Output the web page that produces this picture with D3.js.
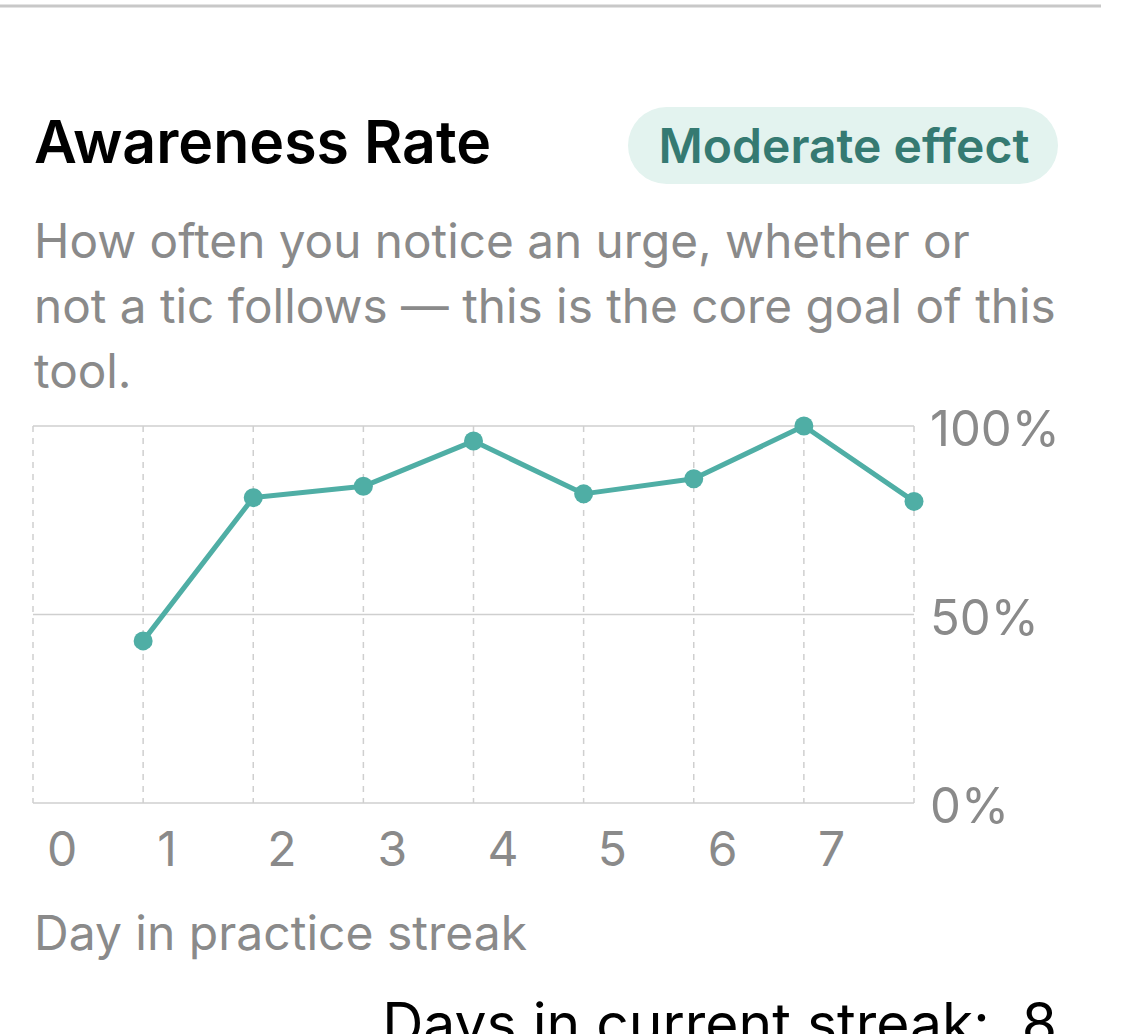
<!DOCTYPE html>
<html>
<head>
<meta charset="utf-8">
<script src="https://cdn.jsdelivr.net/npm/d3@7"></script>
<style>
  body { margin: 0; background: #fff; }
  svg { display: block; font-family: Inter, "Noto Sans", sans-serif; }
</style>
</head>
<body>
<svg id="chart" width="1128" height="1034"></svg>
<script>
// streak days and the awareness rate measured on each
var days = [1, 2, 3, 4, 5, 6, 7, 8];
var awareness = [0.43, 0.81, 0.84, 0.96, 0.82, 0.86, 1.0, 0.80];
var dayTicks = [0, 1, 2, 3, 4, 5, 6, 7, 8];
var dayLabels = ['0', '1', '2', '3', '4', '5', '6', '7'];
var rateTicks = [0, 0.5, 1];
var subtitleLines = [
  'How often you notice an urge, whether or',
  'not a tic follows \u2014 this is the core goal of this',
  'tool.'
];

var svg = d3.select('#chart');
var teal = '#4faea5';
var grey = '#8a8a8a';
var gridColor = '#cfcfcf';

// divider at the top of the card
svg.append('line')
  .attr('x1', 0).attr('x2', 1101)
  .attr('y1', 6).attr('y2', 6)
  .attr('stroke', '#c8c8c8').attr('stroke-width', 3);

svg.append('text')
  .attr('x', 34).attr('y', 163)
  .attr('font-size', 59).attr('font-weight', 600)
  .attr('fill', '#000')
  .text('Awareness Rate');

// effect badge
var badge = svg.append('g');
badge.append('rect')
  .attr('x', 628).attr('y', 107)
  .attr('width', 430).attr('height', 77)
  .attr('rx', 38.5)
  .attr('fill', '#e3f3ef');
badge.append('text')
  .attr('x', 844).attr('y', 163)
  .attr('text-anchor', 'middle')
  .attr('font-size', 48).attr('font-weight', 600)
  .attr('fill', '#357a72')
  .text('Moderate effect');

svg.append('g').selectAll('text')
  .data(subtitleLines)
  .join('text')
    .attr('x', 34)
    .attr('y', function(d, i){ return 258 + i * 65; })
    .attr('font-size', 47.7)
    .attr('fill', grey)
    .text(function(d){ return d; });

// plot area
var x = d3.scaleLinear().domain([0, 8]).range([33, 914]);
var y = d3.scaleLinear().domain([0, 1]).range([803, 426]);

var plot = svg.append('g');

plot.append('g').selectAll('line')
  .data(dayTicks)
  .join('line')
    .attr('x1', x).attr('x2', x)
    .attr('y1', y(1)).attr('y2', y(0))
    .attr('stroke', gridColor)
    .attr('stroke-width', 1.5)
    .attr('stroke-dasharray', '6,6');

plot.append('g').selectAll('line')
  .data(rateTicks)
  .join('line')
    .attr('x1', x(0)).attr('x2', x(8))
    .attr('y1', y).attr('y2', y)
    .attr('stroke', gridColor)
    .attr('stroke-width', 1.5);

// y axis labels on the right
var yAxis = d3.axisRight(y)
  .tickValues(rateTicks)
  .tickFormat(d3.format('.0%'))
  .tickSize(0)
  .tickPadding(16);
plot.append('g')
  .attr('transform', 'translate(' + x(8) + ',0)')
  .call(yAxis)
  .call(function(g){ g.select('.domain').remove(); })
  .selectAll('text')
    .attr('font-family', 'Inter, sans-serif')
    .attr('font-size', 49)
    .attr('fill', grey)
    .attr('dy', '0.4em');

// x labels sit just right of their gridline
plot.append('g').selectAll('text')
  .data(dayLabels)
  .join('text')
    .attr('x', function(d){ return x(+d) + 14; })
    .attr('y', 866)
    .attr('font-size', 48)
    .attr('fill', grey)
    .text(function(d){ return d; });

var line = d3.line()
  .x(function(d, i){ return x(days[i]); })
  .y(function(d){ return y(d); });

plot.append('path')
  .datum(awareness)
  .attr('d', line)
  .attr('fill', 'none')
  .attr('stroke', teal)
  .attr('stroke-width', 5)
  .attr('stroke-linejoin', 'round');

plot.append('g').selectAll('circle')
  .data(awareness)
  .join('circle')
    .attr('cx', function(d, i){ return x(days[i]); })
    .attr('cy', y)
    .attr('r', 9.5)
    .attr('fill', teal);

svg.append('text')
  .attr('x', 34).attr('y', 950)
  .attr('font-size', 48)
  .attr('fill', grey)
  .text('Day in practice streak');

svg.append('text')
  .attr('x', 1057).attr('y', 1044)
  .attr('text-anchor', 'end')
  .attr('font-size', 57)
  .attr('fill', '#000')
  .text('Days in current streak:\u00a0 8');
</script>
</body>
</html>
